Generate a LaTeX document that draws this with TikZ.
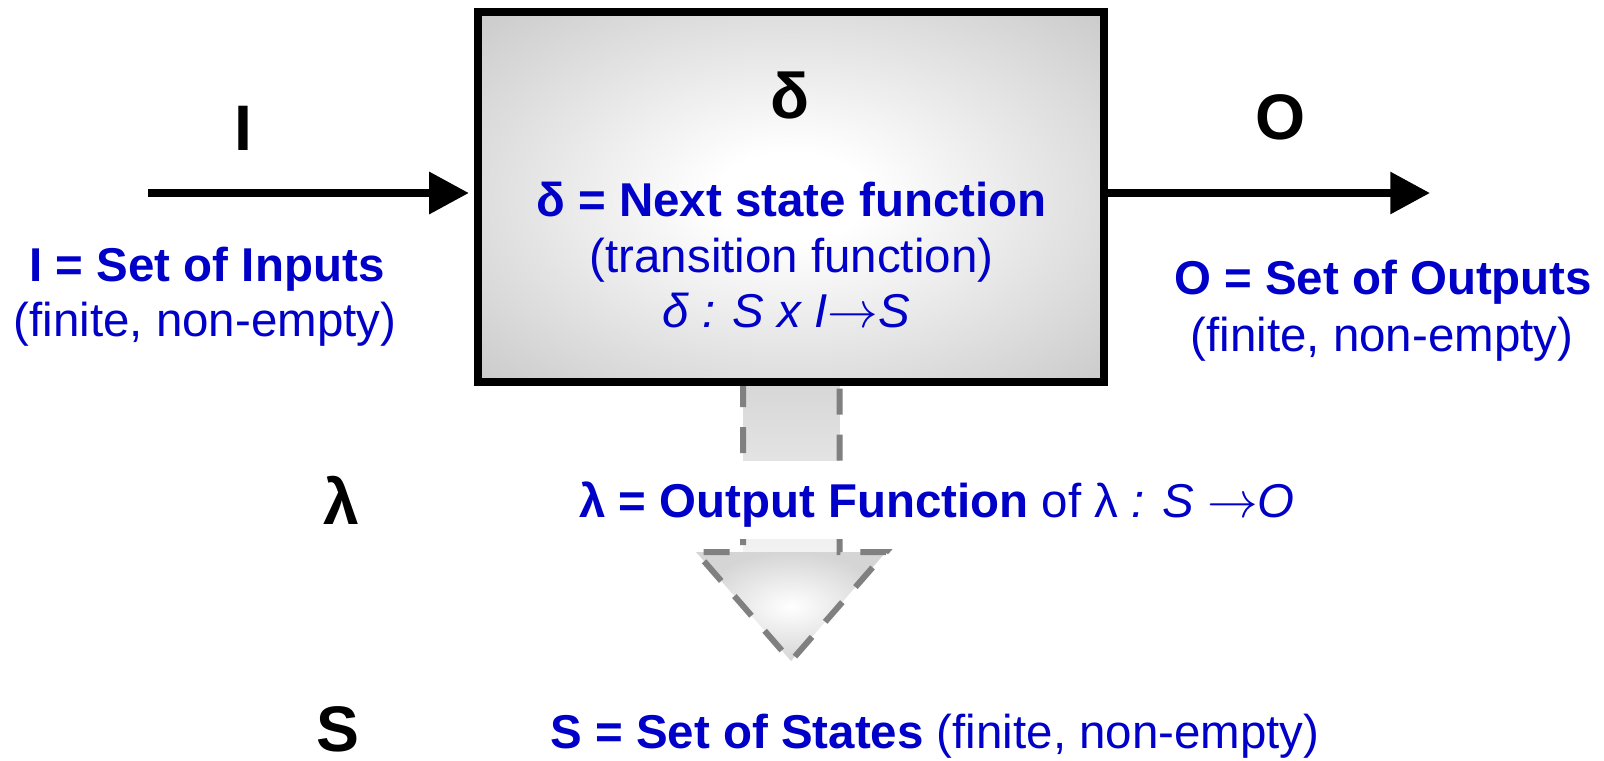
\documentclass[tikz,border=0pt]{standalone}
\usepackage{fontspec}
\setmainfont{Liberation Sans}
\usetikzlibrary{arrows.meta}
\definecolor{fsmblue}{RGB}{0,0,200}
\definecolor{boxgray}{RGB}{191,191,191}
\definecolor{dashgray}{RGB}{128,128,128}
\pgfdeclareradialshading{boxshade}{\pgfpoint{0bp}{0bp}}{color(0bp)=(white); color(6bp)=(white); color(42bp)=(boxgray); color(80bp)=(boxgray)}
\newcommand{\fsmto}{\ensuremath{\rightarrow}}
\tikzset{
  blue text/.style={text=fsmblue, font=\fontsize{13.5}{16}\selectfont, anchor=base, inner sep=0pt},
  sym label/.style={text=black, font=\fontsize{18.3}{22}\selectfont\bfseries, anchor=base, inner sep=0pt},
  fsmbox/.style={draw=black, line width=2.27pt, minimum width=6.26cm, minimum height=3.695cm, shading=boxshade},
  flow/.style={line width=2.27pt, -{Triangle[length=11.3pt, width=11.5pt]}},
  dashed outline/.style={draw=dashgray, line width=1.7pt, dash pattern=on 7.4pt off 5.7pt, line join=miter}
}
\begin{document}
\begin{tikzpicture}[x=0.01cm, y=-0.01cm]
\useasboundingbox (0,0) rectangle (1604,760);
% dashed wide arrow (lambda)
\coordinate (sTL) at (743,381);
\coordinate (sTR) at (839.5,381);
\coordinate (sBL) at (743,552);
\coordinate (sBR) at (839.5,552);
\coordinate (hL) at (696,552);
\coordinate (hR) at (886,552);
\coordinate (hT) at (791,661);
\shade[top color=gray!32, bottom color=gray!10] (sTL) rectangle (sBR);
\shade[inner color=white, outer color=gray!33] (hL) -- (hR) -- (hT) -- cycle;
\draw[dashed outline] (sTL) -- (sBL) -- (hL) -- (hT) -- (hR) -- (sBR) -- (sTR);
% main box
\node[fsmbox] (box) at (791,196.75) {};
% input / output arrows
\coordinate (inS) at (148,193);
\coordinate (outE) at (1430,193);
\draw[flow, shorten >=1.4pt] (inS) -- (inS -| box.west);
\draw[flow] (box.east |- outE) -- (outE);
% black symbols
\node[sym label] (lblI) at (243.5,150) {I};
\node[sym label] (lblO) at (1280,139.5) {O};
\node[sym label] (lblD) at (789.5,118) {δ};
\node[sym label] (lblL) at (341,524.5) {λ};
\node[sym label] (lblS) at (338,751) {S};
% box texts
\node[blue text] (d1) at (791.5,216) {\bfseries δ = Next state function};
\node[blue text] (d2) at (791.5,272.4) {(transition function)};
\node[blue text] (d3) at (786.4,327.7) {\itshape δ : S x I\fsmto S};
% inputs
\node[blue text] (i1) at (207,281) {\bfseries I = Set of Inputs};
\node[blue text] (i2) at (205,336) {(finite, non-empty)};
% outputs
\node[blue text] (o1) at (1383,294) {\bfseries O = Set of Outputs};
\node[blue text] (o2) at (1382,351) {(finite, non-empty)};
% lambda line
\node[blue text, fill=white, text height=15.9pt, text depth=6.2pt, inner xsep=2pt] (l1) at (937,517) {\textbf{λ = Output Function} of λ \textit{: S} \fsmto\textit{O}};
% states
\node[blue text] (s1) at (935,748) {\textbf{S = Set of States} (finite, non-empty)};
\end{tikzpicture}
\end{document}
